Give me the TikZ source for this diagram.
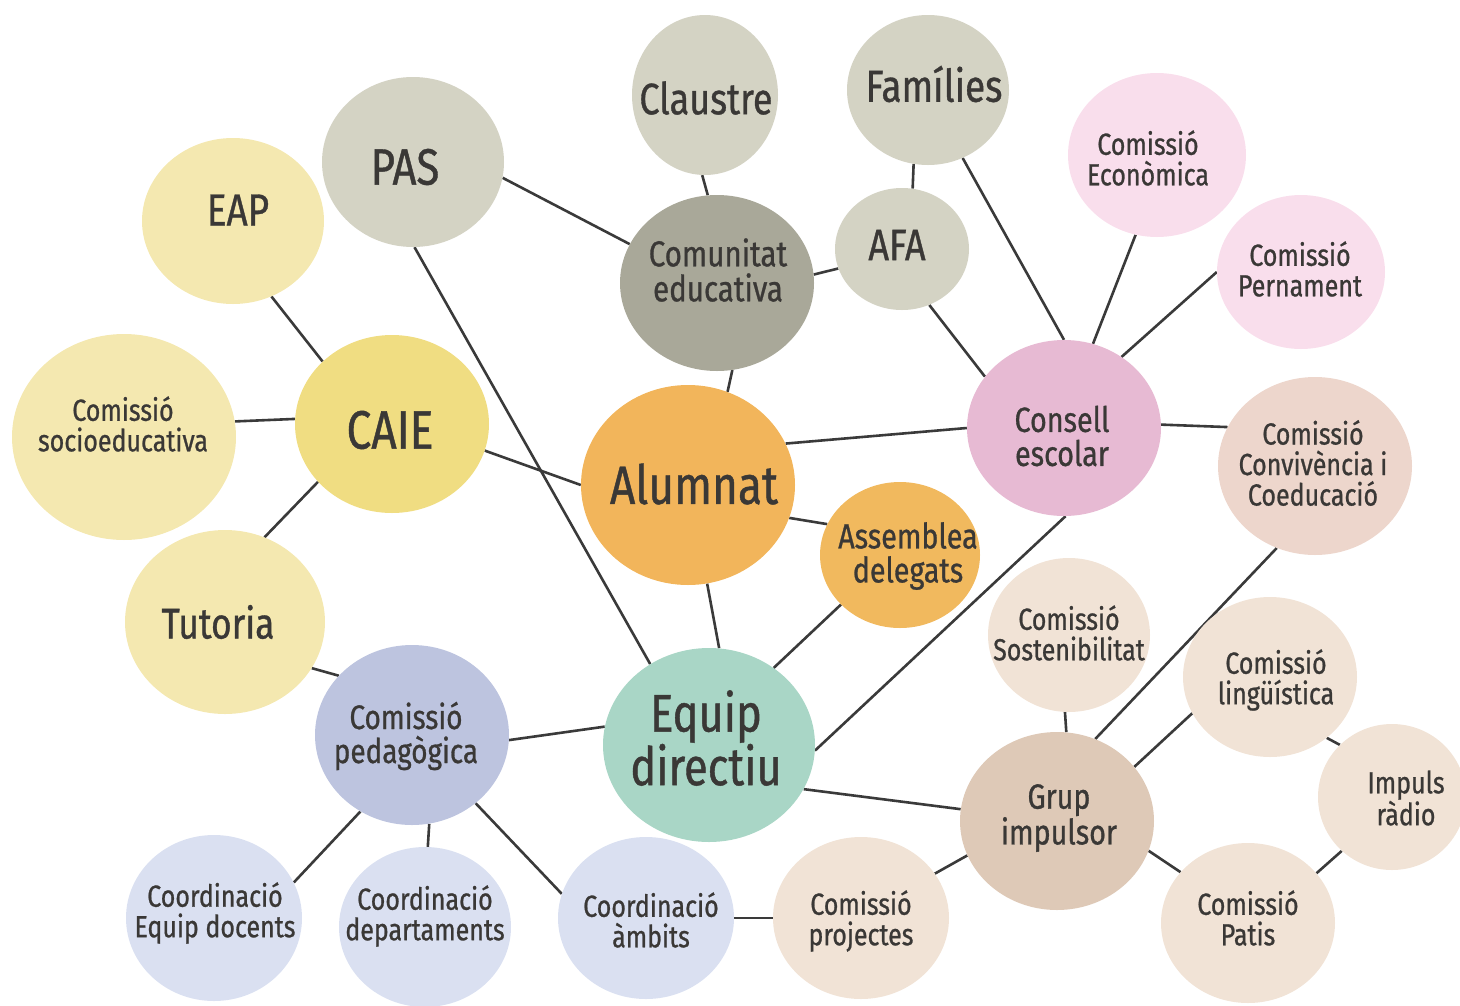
\documentclass[tikz,border=0pt]{standalone}
\usepackage{fontspec}
\setmainfont[FakeStretch=0.82,FakeBold=0.8]{Fira Sans}
\usetikzlibrary{shapes.geometric,backgrounds}
\definecolor{grayA}{HTML}{D4D3C4}
\definecolor{grayB}{HTML}{A9A899}
\definecolor{yelA}{HTML}{F4E8B0}
\definecolor{yelB}{HTML}{F0DD82}
\definecolor{oraA}{HTML}{F2B55B}
\definecolor{oraB}{HTML}{F1B95E}
\definecolor{pinkA}{HTML}{E7BAD3}
\definecolor{pinkB}{HTML}{F9DEEC}
\definecolor{roseA}{HTML}{EDD6CC}
\definecolor{beigeA}{HTML}{F1E3D6}
\definecolor{beigeB}{HTML}{DEC9B7}
\definecolor{mintA}{HTML}{A9D6C6}
\definecolor{lavA}{HTML}{BDC4DF}
\definecolor{lavB}{HTML}{DAE0F1}
\definecolor{txtc}{HTML}{3A3836}
\definecolor{linec}{HTML}{3A3A3A}
\tikzset{
  bub/.style={ellipse, inner sep=0pt, draw=none},
  lbl/.style={align=center, text=txtc, inner sep=0pt},
  fS/.style={font=\fontsize{30.5}{30.5}\selectfont},
  fP/.style={font=\fontsize{34}{34}\selectfont},
  fM/.style={font=\fontsize{35}{34}\selectfont},
  fL/.style={font=\fontsize{44}{45}\selectfont},
  fXL/.style={font=\fontsize{54}{50}\selectfont},
  conn/.style={draw=linec, line width=2.6pt},
}
\begin{document}
\begin{tikzpicture}[x=1pt,y=-1pt]
\useasboundingbox (0,0) rectangle (1460,1005);
% bubbles
\node[bub, fill=grayA, minimum width=146pt, minimum height=160pt] (claustre) at (705,95) {};
\node[bub, fill=grayA, minimum width=162pt, minimum height=150pt] (fam) at (928,90) {};
\node[bub, fill=grayA, minimum width=182pt, minimum height=170pt] (pas) at (413,162) {};
\node[bub, fill=yelA, minimum width=182pt, minimum height=166pt] (eap) at (233,221) {};
\node[bub, fill=grayB, minimum width=194pt, minimum height=176pt] (comun) at (717,283) {};
\node[bub, fill=grayA, minimum width=134pt, minimum height=122pt] (afa) at (902,249) {};
\node[bub, fill=pinkB, minimum width=178pt, minimum height=164pt] (eco) at (1157,155) {};
\node[bub, fill=pinkB, minimum width=168pt, minimum height=154pt] (per) at (1301,272) {};
\node[bub, fill=yelB, minimum width=194pt, minimum height=178pt] (caie) at (392,424) {};
\node[bub, fill=yelA, minimum width=224pt, minimum height=206pt] (socio) at (124,437) {};
\node[bub, fill=oraA, minimum width=214pt, minimum height=200pt] (alum) at (688,485) {};
\node[bub, fill=pinkA, minimum width=194pt, minimum height=176pt] (consell) at (1064,428) {};
\node[bub, fill=roseA, minimum width=194pt, minimum height=178pt] (conv) at (1315,466) {};
\node[bub, fill=oraB, minimum width=160pt, minimum height=146pt] (asm) at (900,555) {};
\node[bub, fill=yelA, minimum width=200pt, minimum height=184pt] (tut) at (225,622) {};
\node[bub, fill=beigeA, minimum width=162pt, minimum height=154pt] (sos) at (1069,635) {};
\node[bub, fill=beigeA, minimum width=174pt, minimum height=160pt] (ling) at (1270,677) {};
\node[bub, fill=lavA, minimum width=194pt, minimum height=180pt] (ped) at (412,735) {};
\node[bub, fill=mintA, minimum width=212pt, minimum height=194pt] (equip) at (709,745) {};
\node[bub, fill=beigeB, minimum width=194pt, minimum height=178pt] (grup) at (1057,821) {};
\node[bub, fill=beigeA, minimum width=148pt, minimum height=146pt] (imp) at (1392,797) {};
\node[bub, fill=lavB, minimum width=176pt, minimum height=166pt] (doc) at (214,918) {};
\node[bub, fill=lavB, minimum width=172pt, minimum height=160pt] (dept) at (425,927) {};
\node[bub, fill=lavB, minimum width=176pt, minimum height=162pt] (amb) at (646,918) {};
\node[bub, fill=beigeA, minimum width=176pt, minimum height=162pt] (proj) at (861,918) {};
\node[bub, fill=beigeA, minimum width=174pt, minimum height=160pt] (patis) at (1248,923) {};
% labels
\node[lbl, fL] (claustre-t) at (706,98) {Claustre};
\node[lbl, fL, font=\fontsize{45}{45}\selectfont] (fam-t) at (934,84) {Famílies};
\node[lbl, fL, font=\fontsize{51}{50}\selectfont] (pas-t) at (405,167) {PAS};
\node[lbl, fL, font=\fontsize{45}{45}\selectfont] (eap-t) at (238,210) {EAP};
\node[lbl, font=\fontsize{36}{35}\selectfont] (comun-t) at (718,270) {Comunitat\\educativa};
\node[lbl, fL] (afa-t) at (897,245) {AFA};
\node[lbl, fS] (eco-t) at (1148,158) {Comissió\\Econòmica};
\node[lbl, fS] (per-t) at (1300,269) {Comissió\\Pernament};
\node[lbl, fXL] (caie-t) at (390,430) {CAIE};
\node[lbl, fS] (socio-t) at (123,424) {Comissió\\socioeducativa};
\node[lbl, fXL] (alum-t) at (694,484) {Alumnat};
\node[lbl, fM] (consell-t) at (1062,436) {Consell\\escolar};
\node[lbl, fS] (conv-t) at (1313,463) {Comissió\\Convivència i\\Coeducació};
\node[lbl, fM] (asm-t) at (908,556) {Assemblea\\delegats};
\node[lbl, font=\fontsize{43}{45}\selectfont] (tut-t) at (218,622) {Tutoria};
\node[lbl, fS] (sos-t) at (1069,633) {Comissió\\Sostenibilitat};
\node[lbl, fS] (ling-t) at (1276,680) {Comissió\\lingüística};
\node[lbl, fP] (ped-t) at (406,736) {Comissió\\pedagògica};
\node[lbl, font=\fontsize{53}{50}\selectfont] (equip-t) at (706,738) {Equip\\directiu};
\node[lbl, fM] (grup-t) at (1059,818) {Grup\\impulsor};
\node[lbl, fS] (imp-t) at (1406,798) {Impuls\\ràdio};
\node[lbl, fS] (doc-t) at (215,913) {Coordinació\\Equip docents};
\node[lbl, fS] (dept-t) at (425,916) {Coordinació\\departaments};
\node[lbl, fS] (amb-t) at (651,920) {Coordinació\\àmbits};
\node[lbl, fS] (proj-t) at (861,921) {Comissió\\projectes};
\node[lbl, fS] (patis-t) at (1248,918) {Comissió\\Patis};
% connectors
\begin{pgfonlayer}{background}
\draw[conn] (claustre.268) -- (comun.96);
\draw[conn] (pas.350) -- (comun.156);
\draw[conn] (pas.271) -- (equip.126);
\draw[conn] (eap.297) -- (caie.138);
\draw[conn] (comun.5) -- (afa.197);
\draw[conn] (comun.280) -- (alum.67);
\draw[conn] (fam.259) -- (afa.80);
\draw[conn] (fam.297) -- (consell.90);
\draw[conn] (afa.296) -- (consell.147);
\draw[conn] (eco.255) -- (consell.71);
\draw[conn] (per.180) -- (consell.51);
\draw[conn] (consell.2) -- (conv.156);
\draw[conn] (alum.23) -- (consell.180);
\draw[conn] (caie.177) -- (socio.8);
\draw[conn] (caie.344) -- (alum.180);
\draw[conn] (caie.218) -- (tut.65);
\draw[conn] (alum.342) -- (asm.157);
\draw[conn] (alum.281) -- (equip.84);
\draw[conn] (asm.220) -- (equip.50);
\draw[conn] (consell.271) -- (equip.357);
\draw[conn] (conv.245) -- (grup.65);
\draw[conn] (tut.332) -- (ped.141);
\draw[conn] (ped.357) -- (equip.170);
\draw[conn] (ped.236) -- (doc.24);
\draw[conn] (ped.281) -- (dept.88);
\draw[conn] (ped.313) -- (amb.164);
\draw[conn] (amb.0) -- (proj.180);
\draw[conn] (proj.31) -- (grup.201);
\draw[conn] (equip.335) -- (grup.173);
\draw[conn] (sos.267) -- (grup.84);
\draw[conn] (grup.35) -- (ling.205);
\draw[conn] (ling.313) -- (imp.135);
\draw[conn] (imp.227) -- (patis.36);
\draw[conn] (grup.342) -- (patis.143);
\end{pgfonlayer}
\end{tikzpicture}
\end{document}
